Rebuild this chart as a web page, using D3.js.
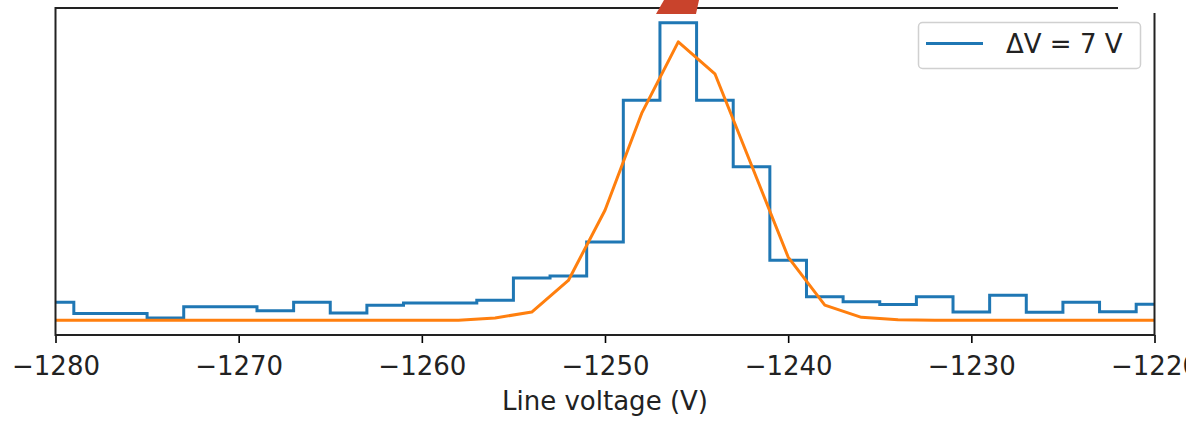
<!DOCTYPE html>
<html>
<head>
<meta charset="utf-8">
<script src="https://cdn.jsdelivr.net/npm/d3@7"></script>
<style>
  html, body { margin: 0; padding: 0; background: #fff; }
  svg { display: block; font-family: "DejaVu Sans", sans-serif; }
</style>
</head>
<body>
<svg id="chart" width="1186" height="422"></svg>
<script>
// Bin centres (V), histogram counts and the fitted peak evaluated at the same centres
const voltages = [-1280, -1278, -1276, -1274, -1272, -1270, -1268, -1266, -1264, -1262,
                  -1260, -1258, -1256, -1254, -1252, -1250, -1248, -1246, -1244, -1242,
                  -1240, -1238, -1236, -1234, -1232, -1230, -1228, -1226, -1224, -1222, -1220];
const counts = [10.5, 6.9, 6.9, 5.5, 9.1, 9.1, 7.8, 10.5, 7.1, 9.6,
                10.3, 10.3, 11.2, 18.3, 18.9, 29.8, 75.2, 100.0, 75.2, 53.9,
                24.0, 12.3, 10.7, 9.8, 12.3, 7.4, 12.8, 7.3, 10.5, 7.5, 9.9];
const fit = [4.8, 4.8, 4.8, 4.8, 4.8, 4.8, 4.8, 4.8, 4.8, 4.8,
             4.8, 4.8, 5.5, 7.4, 17.5, 40.0, 71.0, 93.9, 83.7, 54.4,
             25.0, 9.6, 5.7, 4.9, 4.8, 4.8, 4.8, 4.8, 4.8, 4.8, 4.8];
const xTicks = [-1280, -1270, -1260, -1250, -1240, -1230, -1220];
const legendLabel = "ΔV = 7 V";
const xLabel = "Line voltage (V)";

const svg = d3.select("#chart");
const plot = { left: 55.5, right: 1154.5, top: 8, bottom: 335 };
const blue = "#1f77b4", orange = "#ff7f0e";

const x = d3.scaleLinear().domain([-1280, -1220]).range([plot.left, plot.right]);

// y limits padded by 5% of the data span on both sides
const all = counts.concat(fit);
const [lo, hi] = d3.extent(all);
const pad = 0.05 * (hi - lo);
const y = d3.scaleLinear().domain([lo - pad, hi + pad]).range([plot.bottom, plot.top]);

svg.append("clipPath").attr("id", "plot-area")
  .append("rect")
  .attr("x", plot.left).attr("y", plot.top)
  .attr("width", plot.right - plot.left).attr("height", plot.bottom - plot.top);

const layer = svg.append("g").attr("clip-path", "url(#plot-area)");

const stepLine = d3.line()
  .x((d, i) => x(voltages[i]))
  .y(d => y(d))
  .curve(d3.curveStep);

const fitLine = d3.line()
  .x((d, i) => x(voltages[i]))
  .y(d => y(d));

layer.append("path")
  .attr("d", stepLine(counts))
  .attr("fill", "none")
  .attr("stroke", blue)
  .attr("stroke-width", 3)
  .attr("stroke-linejoin", "miter");

layer.append("path")
  .attr("d", fitLine(fit))
  .attr("fill", "none")
  .attr("stroke", orange)
  .attr("stroke-width", 3)
  .attr("stroke-linejoin", "round");

// x axis with ticks and labels
const xAxis = d3.axisBottom(x)
  .tickValues(xTicks)
  .tickFormat(d3.format("d"))
  .tickSize(8)
  .tickPadding(6);

const gx = svg.append("g")
  .attr("transform", `translate(0,${plot.bottom})`)
  .call(xAxis);
gx.select(".domain").remove();
gx.selectAll(".tick line").attr("stroke", "#000").attr("stroke-width", 1.6);
gx.selectAll(".tick text")
  .attr("fill", "#222")
  .attr("font-size", 26)
  .attr("font-family", "DejaVu Sans, sans-serif")
  .attr("dy", null)
  .attr("y", 40);

svg.append("text")
  .attr("x", (plot.left + plot.right) / 2)
  .attr("y", 410)
  .attr("text-anchor", "middle")
  .attr("font-size", 26)
  .attr("fill", "#222")
  .text(xLabel);

// frame around the plotting area
svg.append("rect")
  .attr("x", plot.left).attr("y", plot.top)
  .attr("width", plot.right - plot.left).attr("height", plot.bottom - plot.top)
  .attr("fill", "none")
  .attr("stroke", "#222")
  .attr("stroke-width", 2);

// top-right corner of the frame is cut away
svg.append("rect")
  .attr("x", 1118).attr("y", 0)
  .attr("width", 68).attr("height", 13)
  .attr("fill", "#fff");

// red marker above the peak
svg.append("polygon")
  .attr("points", "656,14 696,14 699,0 664,0")
  .attr("fill", "#c9432c");

// legend
const lg = svg.append("g");
lg.append("rect")
  .attr("x", 918.5).attr("y", 22.5)
  .attr("width", 222).attr("height", 46)
  .attr("rx", 4)
  .attr("fill", "#fff").attr("fill-opacity", 0.8)
  .attr("stroke", "#d0d0d0").attr("stroke-width", 1.5);
lg.append("line")
  .attr("x1", 926).attr("x2", 983)
  .attr("y1", 43.5).attr("y2", 43.5)
  .attr("stroke", blue).attr("stroke-width", 3);
lg.append("text")
  .attr("x", 1006).attr("y", 53)
  .attr("font-size", 26)
  .attr("fill", "#222")
  .text(legendLabel);
</script>
</body>
</html>
